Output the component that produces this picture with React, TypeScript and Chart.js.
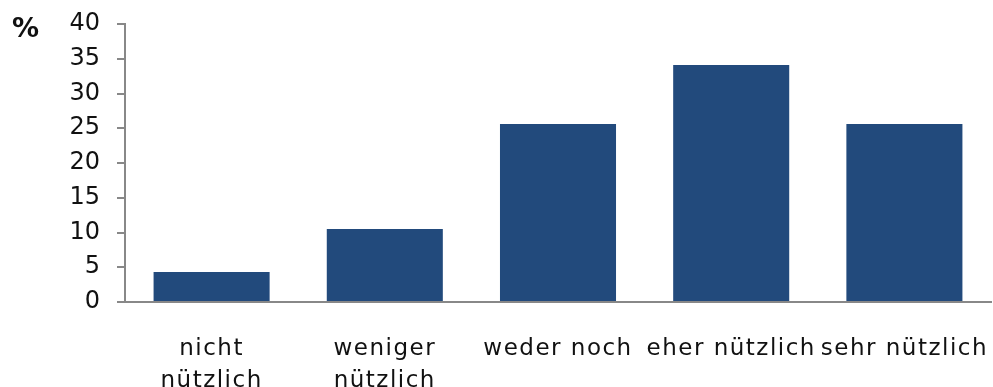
import React, { useEffect, useRef } from "react";
import { Chart, registerables } from "chart.js";

Chart.register(...registerables);

const categories: string[][] = [
  ["nicht", "nützlich"],
  ["weniger", "nützlich"],
  ["weder noch"],
  ["eher nützlich"],
  ["sehr nützlich"],
];
const values: number[] = [4.3, 10.5, 25.6, 34.1, 25.6];
const yTicks: number[] = [0, 5, 10, 15, 20, 25, 30, 35, 40];
const unitLabel = "%";

const FONT = "'DejaVu Sans', Verdana, sans-serif";

const spacingPlugin = {
  id: "spacing",
  beforeInit(chart: any) {
    chart.ctx.letterSpacing = "1.5px";
  },
  beforeLayout(chart: any) {
    chart.ctx.letterSpacing = "1.5px";
  },
  beforeDraw(chart: any) {
    chart.ctx.letterSpacing = "1.5px";
  },
  afterDatasetsDraw(chart: any) {
    chart.ctx.letterSpacing = "0px";
  },
};

const unitPlugin = {
  id: "unitLabel",
  afterDraw(chart: any) {
    const ctx = chart.ctx;
    ctx.save();
    ctx.letterSpacing = "0px";
    ctx.font = `bold 27px ${FONT}`;
    ctx.fillStyle = "#111";
    ctx.textAlign = "left";
    ctx.textBaseline = "middle";
    ctx.fillText(unitLabel, 12, chart.scales.y.getPixelForValue(39.1));
    ctx.restore();
  },
};

export default function App() {
  const ref = useRef<HTMLCanvasElement>(null);
  useEffect(() => {
    document.body.style.margin = "0";
    const chart = new Chart(ref.current!, {
      type: "bar",
      data: {
        labels: categories,
        datasets: [
          {
            data: values,
            backgroundColor: "#224A7C",
            barPercentage: 0.67,
            categoryPercentage: 1,
          },
        ],
      },
      options: {
        animation: false,
        responsive: false,
        maintainAspectRatio: false,
        layout: { padding: { top: 24, right: 2, left: 0, bottom: 0 } },
        plugins: { legend: { display: false }, tooltip: { enabled: false } },
        scales: {
          x: {
            grid: { display: false, drawTicks: false },
            border: { display: true, color: "#888", width: 2 },
            ticks: {
              color: "#111",
              font: { family: FONT, size: 23, lineHeight: 1.35 },
              padding: 32,
              maxRotation: 0,
              autoSkip: false,
            },
            afterFit: (s: any) => {
              s.height = 85;
              s.paddingLeft = 0;
              s.paddingRight = 0;
            },
          },
          y: {
            min: 0,
            max: 40,
            afterBuildTicks: (s: any) => {
              s.ticks = yTicks.map((v) => ({ value: v }));
            },
            grid: {
              display: true,
              drawOnChartArea: false,
              drawTicks: true,
              tickLength: 8,
              color: "#888",
              lineWidth: 2,
            },
            border: { display: true, color: "#888", width: 2 },
            ticks: {
              z: 1,
              color: "#111",
              font: { family: FONT, size: 24 },
              padding: 17,
            },
            afterFit: (s: any) => {
              s.width = 125;
              s.paddingTop = 0;
              s.paddingBottom = 0;
            },
          },
        },
      },
      plugins: [spacingPlugin, unitPlugin],
    });
    return () => chart.destroy();
  }, []);
  return (
    <div style={{ width: 993, height: 387 }}>
      <canvas ref={ref} width={993} height={387} style={{ display: "block" }} />
    </div>
  );
}
